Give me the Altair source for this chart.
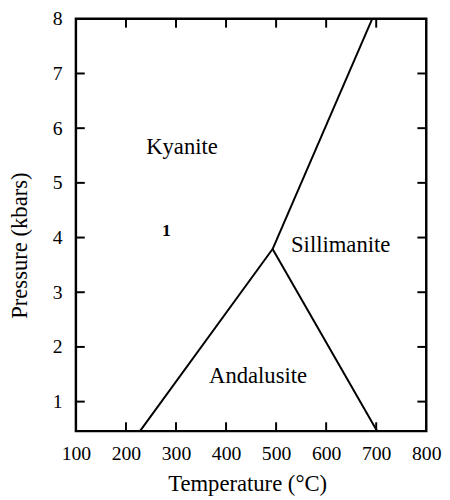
import altair as alt
import pandas as pd

# Phase boundaries (Temperature °C, Pressure kbar)
seg_t1 = [228, 493, 493]
seg_p1 = [0.46, 3.79, 3.79]
seg_t2 = [493, 692, 702]
seg_p2 = [3.79, 8.0, 0.46]

# Field labels
lab_text = ["Kyanite", "Sillimanite", "Andalusite"]
lab_t = [312, 629, 464]
lab_p = [5.53, 3.74, 1.34]

x_ticks = [100, 200, 300, 400, 500, 600, 700, 800]
y_ticks = [1, 2, 3, 4, 5, 6, 7, 8]
x_inner = [200, 300, 400, 500, 600, 700]
y_inner = [1, 2, 3, 4, 5, 6, 7]

FONT = "Liberation Serif"
W, H = 356, 419
TL = 9

segs = pd.DataFrame({"T1": seg_t1, "P1": seg_p1, "T2": seg_t2, "P2": seg_p2})
labs = pd.DataFrame({"label": lab_text, "T": lab_t, "P": lab_p})
one = pd.DataFrame({"label": ["1"], "T": [281], "P": [4.03]})
xt = pd.DataFrame({"T": x_inner})
yt = pd.DataFrame({"P": y_inner})

xs = alt.Scale(domain=[100, 800], nice=False, zero=False)
ys = alt.Scale(domain=[0.46, 8], nice=False, zero=False)

xaxis = alt.Axis(values=x_ticks, format="d", ticks=False, domain=False, grid=False,
                 labelFlush=False, labelOverlap=False,
                 labelFont=FONT, labelFontSize=20, labelColor="black",
                 labelPadding=13, title="Temperature (°C)", titleFont=FONT,
                 titleFontSize=23, titleFontWeight="normal", titleColor="black",
                 titleX=174, titleY=53, titleBaseline="middle", titleAlign="center")
yaxis = alt.Axis(values=y_ticks, format="d", ticks=False, domain=False, grid=False,
                 labelFlush=False, labelOverlap=False,
                 labelFont=FONT, labelFontSize=20, labelColor="black",
                 labelPadding=14, title="Pressure (kbars)", titleFont=FONT,
                 titleFontSize=23, titleFontWeight="normal", titleColor="black",
                 titleX=-57, titleY=230, titleBaseline="middle", titleAlign="center",
                 titleAngle=270)

lines = alt.Chart(segs).mark_rule(color="black", strokeWidth=2).encode(
    x=alt.X("T1:Q", scale=xs, axis=xaxis),
    y=alt.Y("P1:Q", scale=ys, axis=yaxis),
    x2="T2:Q", y2="P2:Q",
)

texts = alt.Chart(labs).mark_text(font=FONT, fontSize=23, color="black",
                                  baseline="alphabetic", align="center").encode(
    x=alt.X("T:Q", scale=xs), y=alt.Y("P:Q", scale=ys), text="label:N")

onetext = alt.Chart(one).mark_text(font=FONT, fontSize=18, fontWeight="bold",
                                   color="black", baseline="alphabetic",
                                   align="center").encode(
    x=alt.X("T:Q", scale=xs), y=alt.Y("P:Q", scale=ys), text="label:N")

bot = alt.Chart(xt).mark_rule(color="black", strokeWidth=2).encode(
    x=alt.X("T:Q", scale=xs), y=alt.value(H), y2=alt.value(H - TL))
top = alt.Chart(xt).mark_rule(color="black", strokeWidth=2).encode(
    x=alt.X("T:Q", scale=xs), y=alt.value(0), y2=alt.value(TL))
left = alt.Chart(yt).mark_rule(color="black", strokeWidth=2).encode(
    y=alt.Y("P:Q", scale=ys), x=alt.value(0), x2=alt.value(TL))
right = alt.Chart(yt).mark_rule(color="black", strokeWidth=2).encode(
    y=alt.Y("P:Q", scale=ys), x=alt.value(W), x2=alt.value(W - TL))

chart = alt.layer(lines, texts, onetext, bot, top, left, right).properties(
    width=W, height=H,
    background="white",
    autosize=alt.AutoSizeParams(type="none"),
    padding={"left": 69, "top": 7, "right": 16, "bottom": 66},
).configure_view(stroke="black", strokeWidth=2.5)

chart.save("out.html", embed_options={"renderer": "svg", "actions": False})
